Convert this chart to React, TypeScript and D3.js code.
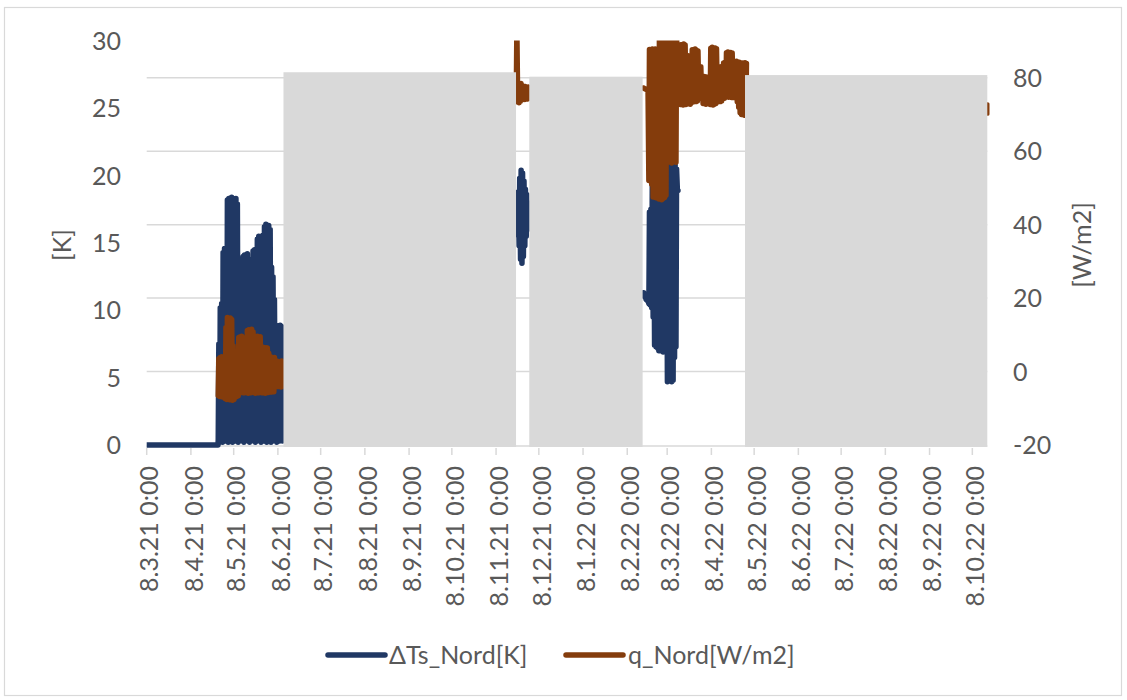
import React from 'react';
import * as d3 from 'd3';

// ---------- data ----------
const X_TICK_LABELS = [
  '8.3.21 0:00', '8.4.21 0:00', '8.5.21 0:00', '8.6.21 0:00', '8.7.21 0:00',
  '8.8.21 0:00', '8.9.21 0:00', '8.10.21 0:00', '8.11.21 0:00', '8.12.21 0:00',
  '8.1.22 0:00', '8.2.22 0:00', '8.3.22 0:00', '8.4.22 0:00', '8.5.22 0:00',
  '8.6.22 0:00', '8.7.22 0:00', '8.8.22 0:00', '8.9.22 0:00', '8.10.22 0:00',
];
const LEFT_TICKS = [0, 5, 10, 15, 20, 25, 30];
const RIGHT_TICKS = [-20, 0, 20, 40, 60, 80];
const LEFT_DOMAIN = [0, 30];
const RIGHT_DOMAIN = [-20, 90];
const X_DOMAIN = ['2021-03-08T00:00', '2022-10-18T12:00'];

const SERIES_NAMES = ['ΔTs_Nord[K]', 'q_Nord[W/m2]'];

// ΔTs_Nord: flat zero stretch
const navyFlat: [string, number][] = [
  ['2021-03-08T00:00', 0],
  ['2021-04-27T00:00', 0],
];
// ΔTs_Nord daily highs / lows, block A (from 2021-04-27)
const navyA_start = '2021-04-27T00:00';
const navyA_high = [7.5, 10.2, 10.5, 14.3, 14.6, 14.4, 18.2, 18.3, 18.1, 18.4, 18.3, 18.0, 18.3, 17.9, 11.4, 11.6, 11.2, 14.0, 14.1, 13.8, 14.2, 13.6, 13.7, 13.5, 14.4, 14.5, 14.3, 15.3, 15.5, 15.2, 15.4, 15.6, 16.2, 16.4, 16.1, 16.3, 16.0, 13.2, 12.5, 10.8, 8.9, 8.8, 8.7, 8.9, 8.8, 8.6];
const navyA_low = [0.4, 0.3, 0.5, 0.2, 0.4, 0.3, 0.5, 0.2, 0.3, 0.4, 0.2, 0.5, 0.3, 0.4, 0.2, 0.3, 0.5, 0.4, 0.2, 0.3, 0.4, 0.5, 0.2, 0.3, 0.4, 0.3, 0.2, 0.5, 0.4, 0.3, 0.2, 0.4, 0.3, 0.5, 0.2, 0.4, 0.3, 0.2, 0.4, 0.5, 0.3, 0.2, 0.4, 0.3, 0.5, 0.3];
// block B (from 2021-11-22)
const navyB_start = '2021-11-22T00:00';
const navyB_high = [17.8, 18.8, 19.8, 20.4, 20.2, 19.6, 19.0, 18.6, 18.0, 17.5];
const navyB_low = [16.2, 15.6, 14.8, 13.8, 13.5, 14.0, 14.8, 15.5, 16.0, 16.4];
// block C (from 2022-02-19)
const navyC_start = '2022-02-19T00:00';
const navyC_high = [11.3, 11.0, 10.8, 10.7, 17.3, 17.5, 20.0, 19.8, 19.0, 19.2, 19.0, 19.3, 19.1, 19.4, 19.2, 19.5, 19.6, 20.5, 20.8, 20.7, 20.8, 20.6, 20.8, 20.5, 18.9];
const navyC_low = [11.3, 11.0, 10.8, 10.7, 10.5, 10.4, 10.2, 9.5, 7.4, 7.3, 7.2, 7.0, 7.0, 7.1, 6.9, 7.0, 6.9, 4.7, 4.8, 4.9, 4.7, 4.8, 6.5, 7.3, 18.9];

// q_Nord daily highs / lows
const brownA_start = '2021-04-27T00:00';
const brownA_high = [3.5, 3.8, 4.0, 3.6, 3.9, 12.0, 14.7, 14.5, 14.6, 14.2, 7.0, 5.2, 5.0, 5.3, 9.3, 9.5, 9.6, 9.2, 5.0, 4.8, 11.2, 11.4, 11.3, 11.5, 10.8, 9.5, 9.4, 9.6, 9.3, 9.5, 6.5, 6.6, 6.3, 6.5, 6.4, 5.0, 3.8, 3.9, 3.7, 3.8, 2.7, 2.8, 2.6, 2.7, 2.9, 2.5];
const brownA_low = [-6.5, -6.8, -6.7, -6.9, -6.6, -7.4, -7.6, -7.5, -7.7, -7.4, -7.8, -7.6, -7.0, -6.8, -6.6, -5.8, -5.7, -5.6, -5.8, -5.7, -5.6, -5.9, -5.7, -5.8, -5.6, -5.7, -5.9, -5.6, -5.8, -5.7, -5.6, -5.8, -5.7, -5.9, -5.6, -5.7, -5.5, -5.6, -5.4, -5.5, -4.2, -4.0, -4.1, -3.9, -4.2, -4.0];
const brownB_start = '2021-11-22T00:00';
const brownB_high = [93, 78.2, 77.6, 78.4, 77.8, 77.4, 77.6, 77.3, 77.5, 77.0];
const brownB_low = [73.8, 73.4, 73.2, 73.6, 74.0, 74.3, 74.1, 74.4, 74.2, 74.5];
const brownC_start = '2022-02-19T00:00';
const brownC_high = [
  77.2, 77.0, 76.8, 76.7,
  87.7, 87.5, 87.8,
  87.6, 87.8, 87.5, 87.7,
  93, 93, 93, 93, 93, 93,
  83.5,
  93, 93, 93, 93, 93, 93,
  86, 88.8,
  89, 88.8, 89.2, 88.9,
  85.8, 86, 85.5, 85.9,
  87.6, 87.4, 87.8, 87.5, 87.3,
  82.8, 83, 80.5,
  80, 80.3, 79.8, 80.2, 80,
  88, 88.3, 87.8, 88.1, 87.9,
  82.8, 83, 82.6, 83.1,
  84, 84.2,
  86.8, 87, 86.6, 86.9, 86.7,
  84.4, 84.2, 84.5,
  84, 84.2, 83.8,
  84, 83.8, 84.1, 83.9,
];
const brownC_low = [
  77.2, 77.0, 76.8, 76.7,
  52, 53, 51,
  47.5, 48, 47.3, 47.6,
  47, 47.2, 46.8, 47.1, 47.4, 48,
  57,
  57.2, 57, 56.8, 57.3, 57.1, 57,
  74.8, 75,
  72.7, 73, 72.6, 72.9,
  72.7, 72.9, 73, 72.8,
  73.6, 73.4, 73.8, 73.5, 73.7,
  74.6, 74.4, 74.8,
  73, 73.2, 72.8, 73.1, 73,
  72.7, 72.9, 72.6, 72.8, 73,
  73.6, 73.8, 73.5, 73.7,
  74.6, 74.4,
  74.8, 75, 74.7, 74.9, 74.6,
  74.6, 74.8, 74.5,
  73.5, 72, 70.5,
  70, 70.3, 69.8, 70.1,
];
const brownD: [string, number][] = [
  ['2022-10-18T14:00', 72.6],
  ['2022-10-18T14:00', 70.4],
];

// grey blocks (start, end, top in [K])
const greyStart = ['2021-06-11T22:00', '2021-12-01T07:00', '2022-05-01T14:00'];
const greyEnd = ['2021-11-22T00:00', '2022-02-18T19:00', '2022-10-18T12:00'];
const greyTop = [27.68, 27.35, 27.47];

// ---------- helpers ----------
type P = { t: Date | null; v: number | null };
const GAP: P = { t: null, v: null };

function osc(start: string, lows: number[], highs: number[]): P[] {
  const s = new Date(start);
  const out: P[] = [];
  lows.forEach((lo, i) => {
    const day = d3.timeDay.offset(s, i);
    out.push({ t: d3.timeHour.offset(day, 4), v: lo });
    out.push({ t: d3.timeHour.offset(day, 14), v: highs[i] });
  });
  return out;
}
const pairs = (arr: [string, number][]): P[] => arr.map(([t, v]) => ({ t: new Date(t), v }));

function parseTick(lbl: string): Date {
  const [d, m, y] = lbl.split(' ')[0].split('.').map(Number);
  return new Date(2000 + y, m - 1, d);
}

// ---------- layout ----------
const W = 1127;
const H = 700;
const PL = 146.7;
const PR = 987.3;
const PT = 41;
const PB = 445;

const NAVY = '#203864';
const BROWN = '#843C0C';
const GREY = '#D9D9D9';
const TXT = '#595959';
const FONT = 'Lato, "Open Sans", sans-serif';
const FS = 25;

export default function App() {
  const x = d3.scaleTime().domain(X_DOMAIN.map((s) => new Date(s))).range([PL, PR]);
  const yL = d3.scaleLinear().domain(LEFT_DOMAIN).range([PB, PT]);
  const yR = d3.scaleLinear().domain(RIGHT_DOMAIN).range([PB, PT]);

  const navy: P[] = [
    ...pairs(navyFlat),
    ...osc(navyA_start, navyA_low, navyA_high),
    GAP,
    ...osc(navyB_start, navyB_low, navyB_high),
    GAP,
    ...osc(navyC_start, navyC_low, navyC_high),
  ];
  const brown: P[] = [
    ...osc(brownA_start, brownA_low, brownA_high),
    GAP,
    ...osc(brownB_start, brownB_low, brownB_high),
    GAP,
    ...osc(brownC_start, brownC_low, brownC_high),
    GAP,
    ...pairs(brownD),
  ];

  const lineL = d3
    .line<P>()
    .defined((p) => p.v != null && p.t != null)
    .x((p) => x(p.t as Date))
    .y((p) => yL(p.v as number));
  const lineR = d3
    .line<P>()
    .defined((p) => p.v != null && p.t != null)
    .x((p) => x(p.t as Date))
    .y((p) => yR(p.v as number));

  const ticks = X_TICK_LABELS.map((l) => ({ l, t: parseTick(l) }));

  return (
    <svg
      width={W}
      height={H}
      style={{ position: 'absolute', left: 0, top: 0, background: '#fff' }}
      fontFamily={FONT}
    >
      <defs>
        <clipPath id="plotclip">
          <rect x={PL} y={PT - 0.5} width={PR - PL + 2.2} height={PB - PT + 15} />
        </clipPath>
      </defs>
      <rect x={4.5} y={7.5} width={1117} height={688} fill="#fff" stroke={GREY} strokeWidth={1.2} />

      {/* gridlines (secondary axis) */}
      {RIGHT_TICKS.filter((v) => v > RIGHT_DOMAIN[0]).map((v) => (
        <line key={v} x1={PL} x2={PR} y1={yR(v)} y2={yR(v)} stroke={GREY} strokeWidth={1.5} />
      ))}
      {/* x axis line */}
      <line x1={PL} x2={PR} y1={PB + 1} y2={PB + 1} stroke={GREY} strokeWidth={1.5} />

      <g clipPath="url(#plotclip)">
        <path d={lineL(navy) || ''} fill="none" stroke={NAVY} strokeWidth={5.5} strokeLinejoin="round" strokeLinecap="round" />
        <path d={lineR(brown) || ''} fill="none" stroke={BROWN} strokeWidth={5.5} strokeLinejoin="round" strokeLinecap="round" />
      </g>

      {/* grey blocks */}
      {greyStart.map((s, i) => {
        const x0 = x(new Date(s));
        const x1 = x(new Date(greyEnd[i]));
        const yt = yL(greyTop[i]);
        return <rect key={i} x={x0} y={yt} width={x1 - x0} height={PB + 2 - yt} fill={GREY} />;
      })}

      {/* x axis ticks + labels */}
      {ticks.map(({ l, t }) => (
        <g key={l}>
          <line x1={x(t)} x2={x(t)} y1={PB + 3} y2={PB + 10} stroke={GREY} strokeWidth={1.5} />
          <text
            transform={`translate(${x(t) + 3},${PB + 21}) rotate(-90)`}
            textAnchor="end"
            dy="0.35em"
            fontSize={FS}
            fill={TXT}
          >
            {l}
          </text>
        </g>
      ))}

      {/* left axis */}
      {LEFT_TICKS.map((v) => (
        <text key={v} x={121} y={yL(v)} dy="0.36em" textAnchor="end" fontSize={FS} fill={TXT}>
          {v}
        </text>
      ))}
      <text transform={`translate(62,${(PT + PB) / 2 + 2}) rotate(-90)`} textAnchor="middle" dy="0.35em" fontSize={FS} fill={TXT}>
        [K]
      </text>

      {/* right axis */}
      {RIGHT_TICKS.map((v) => (
        <text key={v} x={1013} y={yR(v)} dy="0.36em" textAnchor="start" fontSize={FS} fill={TXT}>
          {v}
        </text>
      ))}
      <text transform={`translate(1082,${(PT + PB) / 2 + 2}) rotate(-90)`} textAnchor="middle" dy="0.35em" fontSize={FS} fill={TXT}>
        [W/m2]
      </text>

      {/* legend */}
      <line x1={328} x2={385} y1={655} y2={655} stroke={NAVY} strokeWidth={5.5} strokeLinecap="round" />
      <text x={389} y={655} dy="0.35em" fontSize={FS} fill={TXT}>
        {SERIES_NAMES[0]}
      </text>
      <line x1={566} x2={623} y1={655} y2={655} stroke={BROWN} strokeWidth={5.5} strokeLinecap="round" />
      <text x={628} y={655} dy="0.35em" fontSize={FS} fill={TXT}>
        {SERIES_NAMES[1]}
      </text>
    </svg>
  );
}
